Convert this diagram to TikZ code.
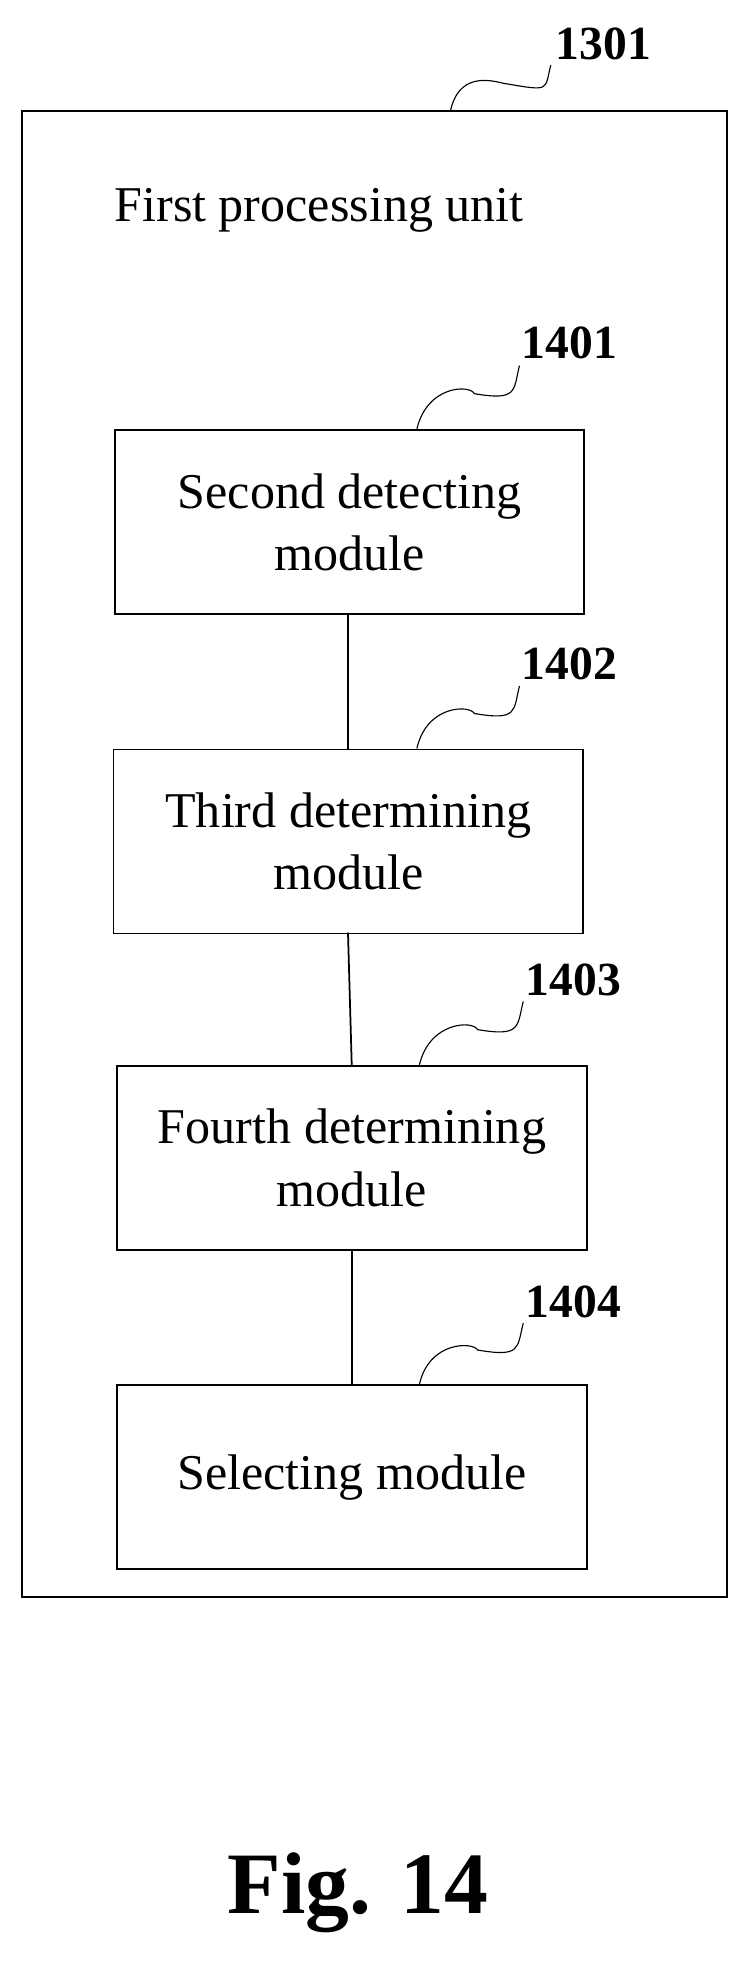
\documentclass[tikz,border=0pt]{standalone}
\usepackage{fontspec}
\setmainfont{Liberation Serif}
\usetikzlibrary{calc}
\begin{document}
\begin{tikzpicture}[x=1pt,y=-1pt,
  box/.style={draw,line width=1.4pt,minimum width=375pt,minimum height=147pt,align=center,font=\fontsize{40}{50}\selectfont,anchor=north west,inner sep=0pt},
  lbl/.style={font=\bfseries\fontsize{38}{42}\selectfont},
  lead/.style={line width=0.9pt}]
\useasboundingbox (0,0) rectangle (600,1577);
\node[draw,line width=1.4pt,minimum width=563pt,minimum height=1187pt,anchor=north west,inner sep=0pt] (outer) at (17,88) {};
\node[anchor=west,font=\fontsize{40}{48}\selectfont] (title) at (88,168) {First processing unit};
\node[box] (b1) at (91,343) {Second detecting\\module};
\node[box] (b2) at (90,598) {Third determining\\module};
\node[box] (b3) at (93,851) {Fourth determining\\module};
\node[box] (b4) at (93,1106) {Selecting module};
\draw[line width=1.4pt] (278,490) -- (278,598);
\draw[line width=1.4pt] (278,745) -- (281,851);
\draw[line width=1.4pt] (281,998) -- (281,1106);
\node[lbl] (l0) at (482,35) {1301};
\node[lbl] (l1) at (455,274) {1401};
\node[lbl] (l2) at (455,530) {1402};
\node[lbl] (l3) at (458,783) {1403};
\node[lbl] (l4) at (458,1040) {1404};
\coordinate (c0) at (360,88); \coordinate (e0) at (440,52);
\coordinate (c1) at (333,343); \coordinate (e1) at (415,292);
\coordinate (c2) at (333,598); \coordinate (e2) at (415,548);
\coordinate (c3) at (335,851); \coordinate (e3) at (418,800);
\coordinate (c4) at (335,1106); \coordinate (e4) at (418,1057);
\foreach \i in {0,...,4}{
  \draw[lead] (c\i) .. controls ($(c\i)+(8,-35)$) and ($(e\i)+(-40,15)$) .. ($(c\i)!0.5!(e\i)+(5,-3)$)
    .. controls ($(c\i)!0.5!(e\i)+(40,3)$) and ($(e\i)+(-5,20)$) .. (e\i);
}
\node[font=\bfseries\fontsize{70}{78}\selectfont] (fig) at (286,1512) {Fig. 14};
\end{tikzpicture}
\end{document}
